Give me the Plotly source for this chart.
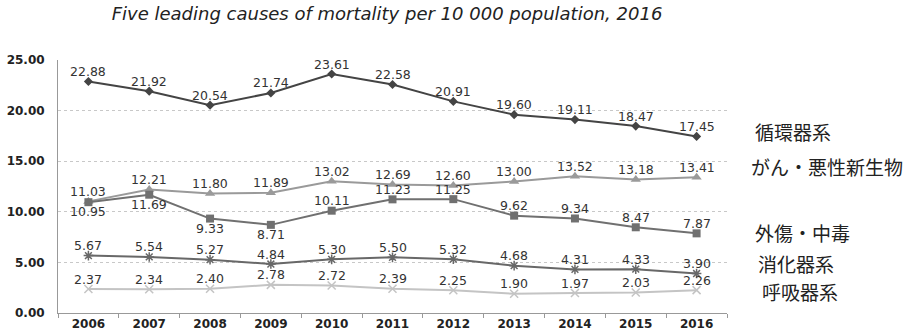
import plotly.graph_objects as go

years = ["2006", "2007", "2008", "2009", "2010", "2011", "2012", "2013", "2014", "2015", "2016"]

circulatory = [22.88, 21.92, 20.54, 21.74, 23.61, 22.58, 20.91, 19.60, 19.11, 18.47, 17.45]
cancer = [11.03, 12.21, 11.80, 11.89, 13.02, 12.69, 12.60, 13.00, 13.52, 13.18, 13.41]
injury = [10.95, 11.69, 9.33, 8.71, 10.11, 11.23, 11.25, 9.62, 9.34, 8.47, 7.87]
digestive = [5.67, 5.54, 5.27, 4.84, 5.30, 5.50, 5.32, 4.68, 4.31, 4.33, 3.90]
respiratory = [2.37, 2.34, 2.40, 2.78, 2.72, 2.39, 2.25, 1.90, 1.97, 2.03, 2.26]

series_names = ["循環器系", "がん・悪性新生物", "外傷・中毒", "消化器系", "呼吸器系"]
name_y = [17.98, 14.43, 8.0, 4.94, 2.08]
name_x = [1.039, 1.033, 1.039, 1.043, 1.049]

y_ticks = [0, 5, 10, 15, 20, 25]
y_tick_text = ["0.00", "5.00", "10.00", "15.00", "20.00", "25.00"]

FONT = "DejaVu Sans, Verdana, sans-serif"

fig = go.Figure()


def add_series(values, color, symbol, size, below=(), mline=0):
    fig.add_trace(go.Scatter(
        x=years, y=values, mode="lines+markers",
        line=dict(color=color, width=2),
        marker=dict(symbol=symbol, size=size, color=color,
                    line=dict(color=color, width=mline)),
        showlegend=False, hoverinfo="x+y",
    ))
    # value labels sit just above each marker, or just below where listed;
    # on a category axis the annotation x is the category index
    for i, v in enumerate(values):
        fig.add_annotation(
            x=i, y=v, xref="x", yref="y", text=f"{v:.2f}",
            showarrow=False, xanchor="center", yanchor="middle",
            yshift=-9.5 if i in below else 10,
            font=dict(family=FONT, size=12.5, color="#333333"),
        )


add_series(circulatory, "#444444", "diamond", 7)
add_series(cancer, "#9a9a9a", "triangle-up", 9)
add_series(injury, "#707070", "square", 8, below=(0, 1, 2, 3))
add_series(digestive, "#686868", "asterisk-open", 8, mline=1.5)
add_series(respiratory, "#c4c4c4", "x-thin-open", 8, mline=1.5)

for name, xv, yv in zip(series_names, name_x, name_y):
    fig.add_annotation(
        x=xv, xref="paper", y=yv, yref="y", text=name,
        showarrow=False, xanchor="left", yanchor="middle",
        font=dict(family="Noto Sans CJK JP", size=19, color="#222222"),
    )

fig.update_layout(
    width=914, height=332,
    margin=dict(l=58, r=187, t=60, b=19),
    paper_bgcolor="white", plot_bgcolor="white",
    title=dict(
        text="<i>Five leading causes of mortality per 10 000 population, 2016</i>",
        x=387 / 914, xanchor="center", y=1 - 14 / 332, yanchor="middle",
        font=dict(family=FONT, size=18, color="#222222"),
    ),
)

fig.update_xaxes(
    type="category", range=[-0.5, 10.5],
    showgrid=False, showline=True, linecolor="#999999", linewidth=1,
    ticks="outside", tickson="boundaries", ticklen=4, tickcolor="#999999",
    tickfont=dict(family=FONT, size=12, color="#222222"),
    tickvals=years, ticktext=[f"<b>{y}</b>" for y in years],
    automargin=False,
)

fig.update_yaxes(
    range=[0, 25], tickvals=y_ticks, ticktext=[f"<b>{t}</b>" for t in y_tick_text],
    showgrid=True, gridcolor="#c8c8c8", griddash="dot", gridwidth=1,
    showline=True, linecolor="#999999", linewidth=1,
    ticks="", ticklabelstandoff=10,
    tickfont=dict(family=FONT, size=12, color="#222222"),
    zeroline=False, automargin=False,
)

fig.write_html("out.html")
